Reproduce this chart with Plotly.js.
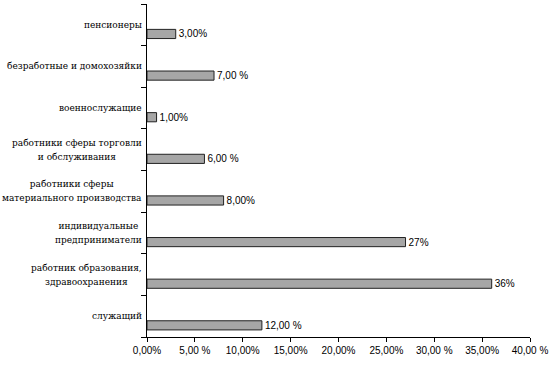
<!DOCTYPE html>
<html>
<head>
<meta charset="utf-8">
<script src="https://cdn.plot.ly/plotly-3.0.1.min.js"></script>
<style>html,body{margin:0;padding:0;background:#fff;}#chart{width:549px;height:366px;}</style>
</head>
<body>
<div id="chart"></div>
<script>
// categories, bottom to top
var categories = [
  "служащий",
  "работник образования,<br>здравоохранения",
  "индивидуальные<br>предприниматели",
  "работники сферы<br>материального производства",
  "работники сферы торговли<br>и обслуживания",
  "военнослужащие",
  "безработные и домохозяйки",
  "пенсионеры"
];
var values = [12, 36, 27, 8, 6, 1, 7, 3];
var valueLabels = ["12,00 %", "36%", "27%", "8,00%", "6,00 %", "1,00%", "7,00 %", "3,00%"];
var xTickVals = [0, 5, 10, 15, 20, 25, 30, 35, 40];
var xTickText = ["0,00%", "5,00 %", "10,00%", "15,00%", "20,00%", "25,00%", "30,00 %", "35,00%", "40,00 %"];

var trace = {
  type: "bar",
  orientation: "h",
  y: categories,
  x: values,
  text: valueLabels,
  textposition: "outside",
  constraintext: "none",
  cliponaxis: false,
  textfont: {family: "Liberation Sans", size: 10, color: "#000"},
  width: 0.22,
  offset: -0.33,
  marker: {color: "#a6a6a6", line: {color: "#222", width: 1}},
  hoverinfo: "none"
};

var annotations = categories.map(function (c) {
  var txt = c.split("<br>").map(function (l) {
    return '<span style="font-size:9px">' + l + '</span>';
  }).join("<br>");
  return {
    xref: "paper", yref: "y", x: 0, y: c,
    text: txt, showarrow: false,
    xanchor: "right", yanchor: "middle", align: "center",
    xshift: -3,
    font: {family: "DejaVu Serif", size: 11, color: "#000"}
  };
});

var layout = {
  width: 549, height: 366,
  margin: {l: 147, r: 19, t: 4, b: 29, pad: 0},
  paper_bgcolor: "#fff", plot_bgcolor: "#fff",
  showlegend: false,
  xaxis: {
    range: [0, 40], tickvals: xTickVals, ticktext: xTickText,
    showgrid: false, zeroline: false,
    showline: true, linecolor: "#000", linewidth: 1,
    ticks: "outside", ticklen: 4, tickcolor: "#000",
    tickfont: {family: "Liberation Sans", size: 10, color: "#000"}
  },
  yaxis: {
    type: "category", categoryorder: "array", categoryarray: categories,
    range: [-0.5, 7.5],
    showgrid: false, zeroline: false,
    showline: true, linecolor: "#000", linewidth: 1,
    ticks: "outside", ticklen: 5, tickcolor: "#000", tickson: "boundaries",
    showticklabels: false
  },
  annotations: annotations
};

Plotly.newPlot("chart", [trace], layout, {staticPlot: true, displayModeBar: false});
</script>
</body>
</html>
